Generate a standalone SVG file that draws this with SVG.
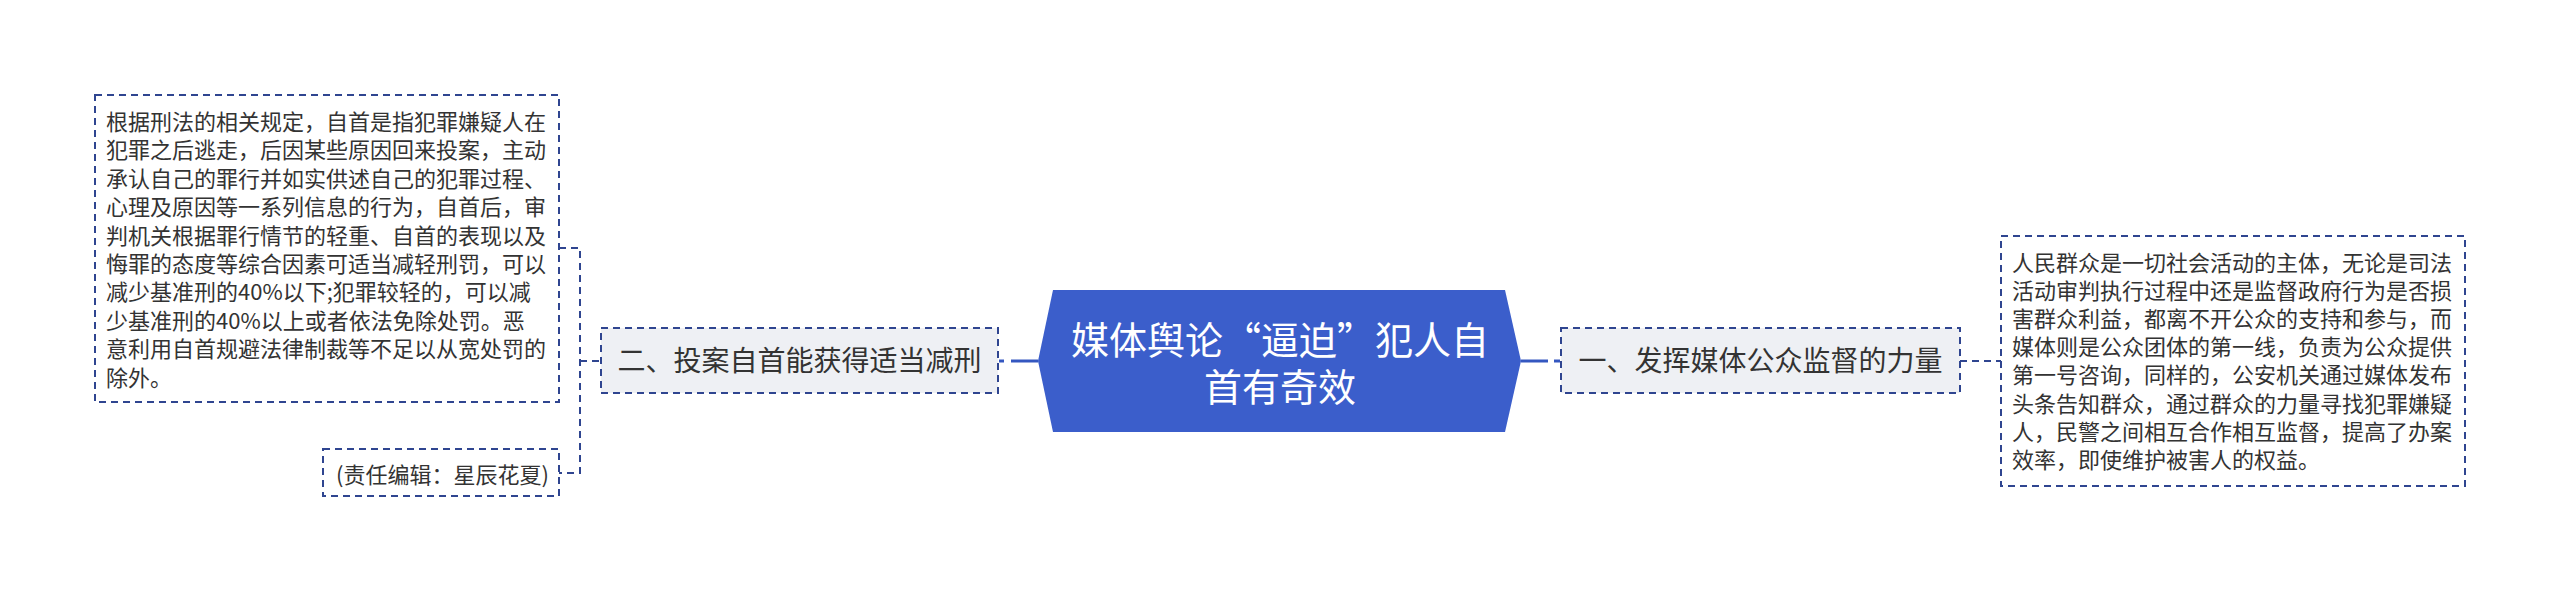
<svg xmlns="http://www.w3.org/2000/svg" width="2560" height="594" viewBox="0 0 2560 594">
<style>
.t{font-family:"Noto Sans CJK SC","Noto Sans",sans-serif;fill:#333333}
.s{font-size:22px}
.m{font-size:28px}
.c{font-family:"Noto Sans CJK SC","Noto Sans",sans-serif;font-size:38px;fill:#ffffff}
.box{fill:#ffffff;stroke:#2f4590;stroke-width:2;stroke-dasharray:7 5}
.sub{fill:#eef0f4;stroke:#2f4590;stroke-width:2;stroke-dasharray:7 5}
.dl{fill:none;stroke:#2f4590;stroke-width:2;stroke-dasharray:7 5}
.sl{fill:none;stroke:#3457c0;stroke-width:3}
</style>
<rect width="2560" height="594" fill="#ffffff"/>
<g id="connectors">
  <line class="sl" x1="1011" y1="361" x2="1038" y2="361"/>
  <line class="sl" x1="999" y1="361" x2="1004" y2="361"/>
  <line class="sl" x1="1521" y1="361" x2="1548" y2="361"/>
  <line class="sl" x1="1554" y1="361" x2="1560" y2="361"/>
  <path class="dl" d="M559 248 H580 V473 H559"/>
  <line class="dl" x1="580" y1="361" x2="601" y2="361"/>
  <line class="dl" x1="1960" y1="361" x2="2001" y2="361"/>
</g>
<g id="center">
  <polygon points="1038,361 1053,290 1505,290 1521,361 1505,432 1053,432" fill="#3b5ecb"/>
  <text class="c" text-anchor="middle"><tspan x="1280" y="354">媒体舆论“逼迫”犯人自</tspan><tspan x="1280" y="401">首有奇效</tspan></text>
</g>
<g id="node-left">
  <rect class="sub" x="601" y="328" width="397" height="65"/>
  <text class="t m" x="799.5" y="371" text-anchor="middle">二、投案自首能获得适当减刑</text>
</g>
<g id="node-right">
  <rect class="sub" x="1561" y="328" width="399" height="65"/>
  <text class="t m" x="1760.5" y="371" text-anchor="middle">一、发挥媒体公众监督的力量</text>
</g>
<g id="leaf-left-text">
  <rect class="box" x="95" y="95" width="464" height="307"/>
  <text class="t s">
    <tspan x="106" y="130">根据刑法的相关规定，自首是指犯罪嫌疑人在</tspan>
    <tspan x="106" y="158.4">犯罪之后逃走，后因某些原因回来投案，主动</tspan>
    <tspan x="106" y="186.8">承认自己的罪行并如实供述自己的犯罪过程、</tspan>
    <tspan x="106" y="215.2">心理及原因等一系列信息的行为，自首后，审</tspan>
    <tspan x="106" y="243.6">判机关根据罪行情节的轻重、自首的表现以及</tspan>
    <tspan x="106" y="272">悔罪的态度等综合因素可适当减轻刑罚，可以</tspan>
    <tspan x="106" y="300.4">减少基准刑的40%以下;犯罪较轻的，可以减</tspan>
    <tspan x="106" y="328.8">少基准刑的40%以上或者依法免除处罚。恶</tspan>
    <tspan x="106" y="357.2">意利用自首规避法律制裁等不足以从宽处罚的</tspan>
    <tspan x="106" y="385.6">除外。</tspan>
  </text>
</g>
<g id="leaf-left-editor">
  <rect class="box" x="323" y="449" width="236" height="47"/>
  <text class="t s" x="336" y="483">(责任编辑：星辰花夏)</text>
</g>
<g id="leaf-right-text">
  <rect class="box" x="2001" y="236" width="464" height="250"/>
  <text class="t s">
    <tspan x="2012" y="271">人民群众是一切社会活动的主体，无论是司法</tspan>
    <tspan x="2012" y="299.1">活动审判执行过程中还是监督政府行为是否损</tspan>
    <tspan x="2012" y="327.2">害群众利益，都离不开公众的支持和参与，而</tspan>
    <tspan x="2012" y="355.3">媒体则是公众团体的第一线，负责为公众提供</tspan>
    <tspan x="2012" y="383.4">第一号咨询，同样的，公安机关通过媒体发布</tspan>
    <tspan x="2012" y="411.5">头条告知群众，通过群众的力量寻找犯罪嫌疑</tspan>
    <tspan x="2012" y="439.6">人，民警之间相互合作相互监督，提高了办案</tspan>
    <tspan x="2012" y="467.7">效率，即使维护被害人的权益。</tspan>
  </text>
</g>
</svg>
